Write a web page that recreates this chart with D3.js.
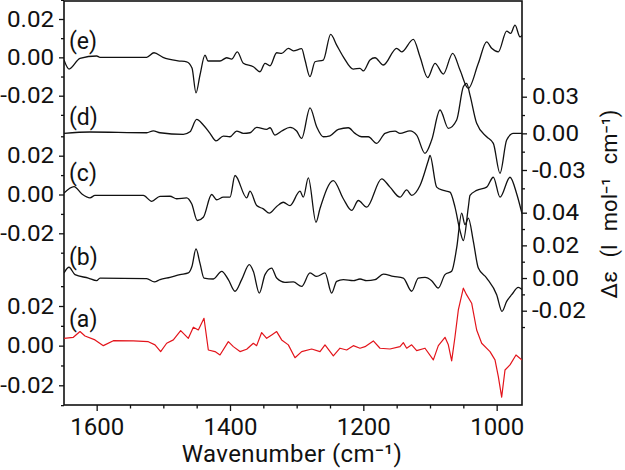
<!DOCTYPE html>
<html>
<head>
<meta charset="utf-8">
<script src="https://cdn.jsdelivr.net/npm/d3@7/dist/d3.min.js"></script>
<style>
body { margin: 0; background: #fff; }
svg text { font-family: Roboto, "Liberation Sans", sans-serif; fill: #111; }
</style>
</head>
<body>
<div id="chart"></div>
<script>
// spectra: [wavenumber, delta epsilon]
var traceE = [[1649,-0.0014],[1641.5,-0.0061],[1625,-0.0005],[1600,0.0007],[1595,0],[1525,0],[1514,0.0024],[1500.5,0],[1478,-0.0018],[1465,-0.0023],[1457,-0.0056],[1451,-0.0185],[1445,-0.0092],[1437.5,0.0012],[1433,-0.0019],[1415,-0.0019],[1405,-0.0002],[1397.5,-0.0009],[1389,0.0029],[1380,-0.0031],[1365,-0.0049],[1355,-0.0075],[1347.5,-0.0031],[1340,-0.0044],[1330,0.0024],[1322.5,0.0021],[1312.5,0.0047],[1305,0.0034],[1292.5,0.0045],[1287.5,-0.0014],[1280,-0.0101],[1272.5,-0.0023],[1260,-0.0014],[1249,0.012],[1240,0.0064],[1230,0.0003],[1215,-0.0061],[1205,-0.0057],[1200,-0.0071],[1190,-0.0014],[1182.5,-0.0002],[1170,-0.004],[1150,0.0047],[1142.5,0.0029],[1125,0.0094],[1115,0.0003],[1103.5,-0.0106],[1092.5,-0.0031],[1080,-0.0087],[1066,0.0021],[1055,-0.0066],[1042.5,-0.0162],[1027.5,-0.0031],[1015,0.0081],[1007.5,0.0047],[997.5,0.0029],[985,0.0137],[979,0.0125],[972.5,0.0168],[965,0.0107],[962,0.0115]];

var traceD = [[1649,0],[1610,0.0011],[1525,0.0005],[1515,0.0021],[1505,0.0005],[1470,-0.0008],[1460,0.0013],[1450,0.0115],[1440,0.0068],[1430,0],[1421,-0.0061],[1410,-0.0022],[1400,-0.0028],[1390,0.0019],[1380,0],[1370,0.0005],[1360,0.0049],[1345,0.0033],[1340,0.0046],[1332.5,-0.0014],[1322.5,0.0019],[1310,0.0049],[1300,0.0019],[1292.5,-0.0041],[1280,0.0209],[1270,0.0054],[1260,-0.0028],[1250,-0.002],[1237.5,0.0033],[1222.5,0.0046],[1212.5,0],[1202.5,-0.0028],[1192.5,-0.0028],[1180,-0.0082],[1167.5,0],[1152.5,0.0019],[1145,0],[1130,0.0021],[1120,-0.0014],[1107.5,-0.0164],[1097.5,-0.0055],[1085,0.0191],[1072.5,0.0041],[1060,0.0109],[1050,0.0381],[1045,0.0409],[1040,0.0313],[1030,0.0082],[1015,-0.0028],[1005,-0.0082],[995,-0.0327],[985,-0.0055],[975,0],[962,0]];

var traceC = [[1649,0.0007],[1634,0.0041],[1622.5,0.0004],[1610,-0.0017],[1602.5,-0.0005],[1530,-0.0005],[1517.5,-0.0035],[1505,-0.001],[1490,-0.0009],[1480,-0.0022],[1465,-0.0017],[1457.5,-0.0048],[1449,-0.0134],[1440,-0.0117],[1427.5,0],[1420,-0.0027],[1410,-0.0014],[1400,-0.0014],[1392.5,0.0098],[1375,-0.0017],[1370,0.0017],[1360,-0.0057],[1350,-0.0074],[1341,-0.0096],[1330,-0.0062],[1320,-0.004],[1310,-0.0057],[1295,0.0017],[1290,-0.0014],[1282.5,0.0086],[1271,-0.0143],[1265,-0.0072],[1245,0.0072],[1230,-0.0022],[1217.5,-0.0082],[1207.5,-0.0031],[1195,-0.0065],[1172.5,0.0081],[1160,0.0038],[1145,-0.0014],[1135,0.0024],[1127.5,-0.0005],[1115,0.0046],[1102.5,0.0175],[1100,0.0201],[1090,0.0038],[1080,0.0021],[1070,0.0012],[1062.5,-0.0065],[1055,-0.0186],[1050,-0.0237],[1042.5,-0.0065],[1040,-0.0005],[1030,0.0021],[1015,0.0038],[1005,0.0089],[995,-0.0014],[980,0.0089],[970,0.0004],[962,-0.0099]];

var traceB = [[1649,0.0031],[1641.5,0.0066],[1632.5,0.0021],[1612.5,0],[1600,-0.0016],[1595,0],[1525,-0.0004],[1513.5,-0.0024],[1505,-0.001],[1490,0.0004],[1475,0.0021],[1462.5,0.0031],[1457,0.0072],[1451,0.0178],[1445,0.009],[1439,0],[1425,-0.0006],[1412.5,0.0041],[1402.5,-0.001],[1392.5,-0.0081],[1382.5,-0.001],[1371,0.0082],[1365,0.0041],[1356,-0.0092],[1347.5,0.0021],[1337.5,0.0061],[1330,0],[1317.5,-0.0026],[1305,-0.0024],[1292.5,-0.0051],[1280,0.0031],[1270,0.001],[1257.5,0.0031],[1247.5,-0.0092],[1240,-0.002],[1230,-0.001],[1215,-0.0016],[1205,-0.0006],[1195,-0.0016],[1182.5,-0.001],[1170,0.0024],[1155,0.001],[1140,0],[1127.5,-0.0081],[1117.5,0],[1107.5,0.0004],[1097.5,-0.0016],[1087.5,-0.0061],[1077.5,0.0021],[1067.5,0.0041],[1060,0.0184],[1052.5,0.0398],[1047.5,0.0327],[1042.5,0.0367],[1035,0.0225],[1027.5,0.0061],[1015,0],[1000,-0.0102],[992,-0.0204],[985,-0.0143],[977.5,-0.0102],[967.5,-0.0057],[962,-0.0071]];

var traceA = [[1649,0.0037],[1635,0.0042],[1625,0.0071],[1617.5,0.0049],[1602.5,0.0029],[1590,0],[1575,0.0025],[1545,0.0024],[1522.5,0.002],[1512.5,0.0004],[1504,-0.003],[1495,0.0012],[1485,0.0029],[1474,0.0076],[1462.5,0.0037],[1455,0.0093],[1447.5,0.0079],[1439,0.0138],[1432.5,-0.0022],[1422.5,-0.003],[1415,-0.0047],[1402.5,0.002],[1395,-0.0005],[1385,-0.003],[1375,-0.0018],[1365,0.0012],[1360,0],[1352.5,0.0066],[1345,0.0037],[1337.5,0.0054],[1330,0.0071],[1322.5,0.0029],[1312.5,0.0004],[1302.5,-0.0061],[1292.5,-0.003],[1277.5,-0.0017],[1265,-0.003],[1257.5,0.0004],[1245,-0.0052],[1235,-0.0013],[1225,-0.0022],[1215,0],[1205,-0.0013],[1197.5,-0.0005],[1185,0.0024],[1175,-0.0013],[1160,-0.0017],[1145,-0.0005],[1140,0.0015],[1135,-0.0013],[1127.5,0.0004],[1120,-0.0025],[1107.5,-0.0013],[1095,-0.0072],[1087.5,0],[1077.5,0.0042],[1072.5,0.0004],[1067.5,-0.0077],[1062.5,0.0045],[1057.5,0.018],[1050,0.029],[1045,0.0256],[1037.5,0.0214],[1030,0.0079],[1022.5,0.0012],[1010,-0.003],[1002.5,-0.0072],[997.5,-0.0156],[992.5,-0.026],[987.5,-0.0123],[980,-0.0097],[971,-0.0047],[962,-0.0072]];

var xMajor = [1600, 1400, 1200, 1000];
var xMinor = [1550, 1500, 1450, 1350, 1300, 1250, 1150, 1100, 1050];
var leftMajor = [-0.02, 0, 0.02];
var leftMinor = [-0.03, -0.01, 0.01, 0.03];
var dMajor = [-0.03, 0, 0.03];
var dMinor = [-0.045, -0.015, 0.015, 0.045];
var bMajor = [-0.02, 0, 0.02, 0.04];
var bMinor = [-0.03, -0.01, 0.01, 0.03];

var W = 625, H = 470;
var mLeft = 64, mRight = 522, mTop = 1, mBottom = 405;

var svg = d3.select("#chart").append("svg").attr("width", W).attr("height", H);

var x = d3.scaleLinear().domain([1649, 962]).range([mLeft, mRight]);

// one y scale per spectrum, stacked
var yE = d3.scaleLinear().domain([-0.02, 0.02]).range([95.7, 19]);
var yD = d3.scaleLinear().domain([-0.03, 0.03]).range([170, 96.7]);
var yC = d3.scaleLinear().domain([-0.02, 0.02]).range([233.3, 155.7]);
var yB = d3.scaleLinear().domain([-0.02, 0.04]).range([310.7, 212.7]);
var yA = d3.scaleLinear().domain([-0.02, 0.02]).range([385.3, 306]);

svg.append("clipPath").attr("id", "clip")
	.append("rect").attr("x", mLeft).attr("y", mTop).attr("width", mRight - mLeft).attr("height", mBottom - mTop);

var fmt = function(d) { return d.toFixed(2); };

var styleAxis = function(g) {
	g.attr("font-size", null).attr("font-family", null);
	g.selectAll(".domain").remove();
	g.selectAll("line").attr("stroke", "#111").attr("stroke-width", 1.3);
};

var yAxis = function(scale, side, major, minor) {
	var xpos = side == "left" ? mLeft : mRight;
	var mk = side == "left" ? d3.axisLeft : d3.axisRight;
	var g = svg.append("g").attr("transform", "translate(" + xpos + ",0)");
	g.call(mk(scale).tickValues(major).tickSize(5).tickPadding(4).tickFormat(fmt));
	g.selectAll("text").style("font-size", "22px").attr("transform", "scale(1.1,1)");
	styleAxis(g);
	var g2 = svg.append("g").attr("transform", "translate(" + xpos + ",0)");
	g2.call(mk(scale).tickValues(minor).tickSize(3).tickFormat(""));
	styleAxis(g2);
};

yAxis(yE, "left", leftMajor, leftMinor);
yAxis(yC, "left", leftMajor, leftMinor);
yAxis(yA, "left", leftMajor, leftMinor);
yAxis(yD, "right", dMajor, dMinor);
yAxis(yB, "right", bMajor, bMinor);

var gx = svg.append("g").attr("transform", "translate(0," + mBottom + ")");
gx.call(d3.axisBottom(x).tickValues(xMajor).tickSize(6).tickPadding(7).tickFormat(d3.format("d")));
gx.selectAll("text").style("font-size", "24px");
styleAxis(gx);
var gx2 = svg.append("g").attr("transform", "translate(0," + mBottom + ")");
gx2.call(d3.axisBottom(x).tickValues(xMinor).tickSize(3.5).tickFormat(""));
styleAxis(gx2);

// frame
svg.append("rect")
	.attr("x", mLeft).attr("y", mTop)
	.attr("width", mRight - mLeft).attr("height", mBottom - mTop)
	.attr("fill", "none").attr("stroke", "#111").attr("stroke-width", 1.6);

var spectra = [
	{data: traceE, y: yE, color: "#111", label: "(e)", ly: 49},
	{data: traceD, y: yD, color: "#111", label: "(d)", ly: 125},
	{data: traceC, y: yC, color: "#111", label: "(c)", ly: 181},
	{data: traceB, y: yB, color: "#111", label: "(b)", ly: 265},
	{data: traceA, y: yA, color: "#e3141b", label: "(a)", ly: 327}
];

var plot = svg.append("g").attr("clip-path", "url(#clip)");

spectra.forEach(function(s) {
	var line = d3.line()
		.x(function(d) { return x(d[0]); })
		.y(function(d) { return s.y(d[1]); })
		.curve(s.label == "(a)" ? d3.curveLinear : d3.curveMonotoneX);
	plot.append("path")
		.datum(s.data)
		.attr("d", line)
		.attr("fill", "none")
		.attr("stroke", s.color)
		.attr("stroke-width", s.label == "(a)" ? 1.2 : 1.3)
		.attr("stroke-linejoin", "round");

	svg.append("text")
		.attr("x", 69).attr("y", s.ly)
		.style("font-size", "23px")
		.text(s.label);
});

// axis titles
svg.append("text")
	.attr("x", 292).attr("y", 462)
	.attr("text-anchor", "middle")
	.style("font-size", "24px")
	.style("letter-spacing", "0.4px")
	.text("Wavenumber (cm\u207b\u00b9)");

svg.append("text")
	.attr("transform", "translate(617,204) rotate(-90)")
	.attr("text-anchor", "middle")
	.style("font-size", "22px")
	.style("word-spacing", "8px")
	.text("\u0394\u03b5 (l mol\u207b\u00b9 cm\u207b\u00b9)");
</script>
</body>
</html>
